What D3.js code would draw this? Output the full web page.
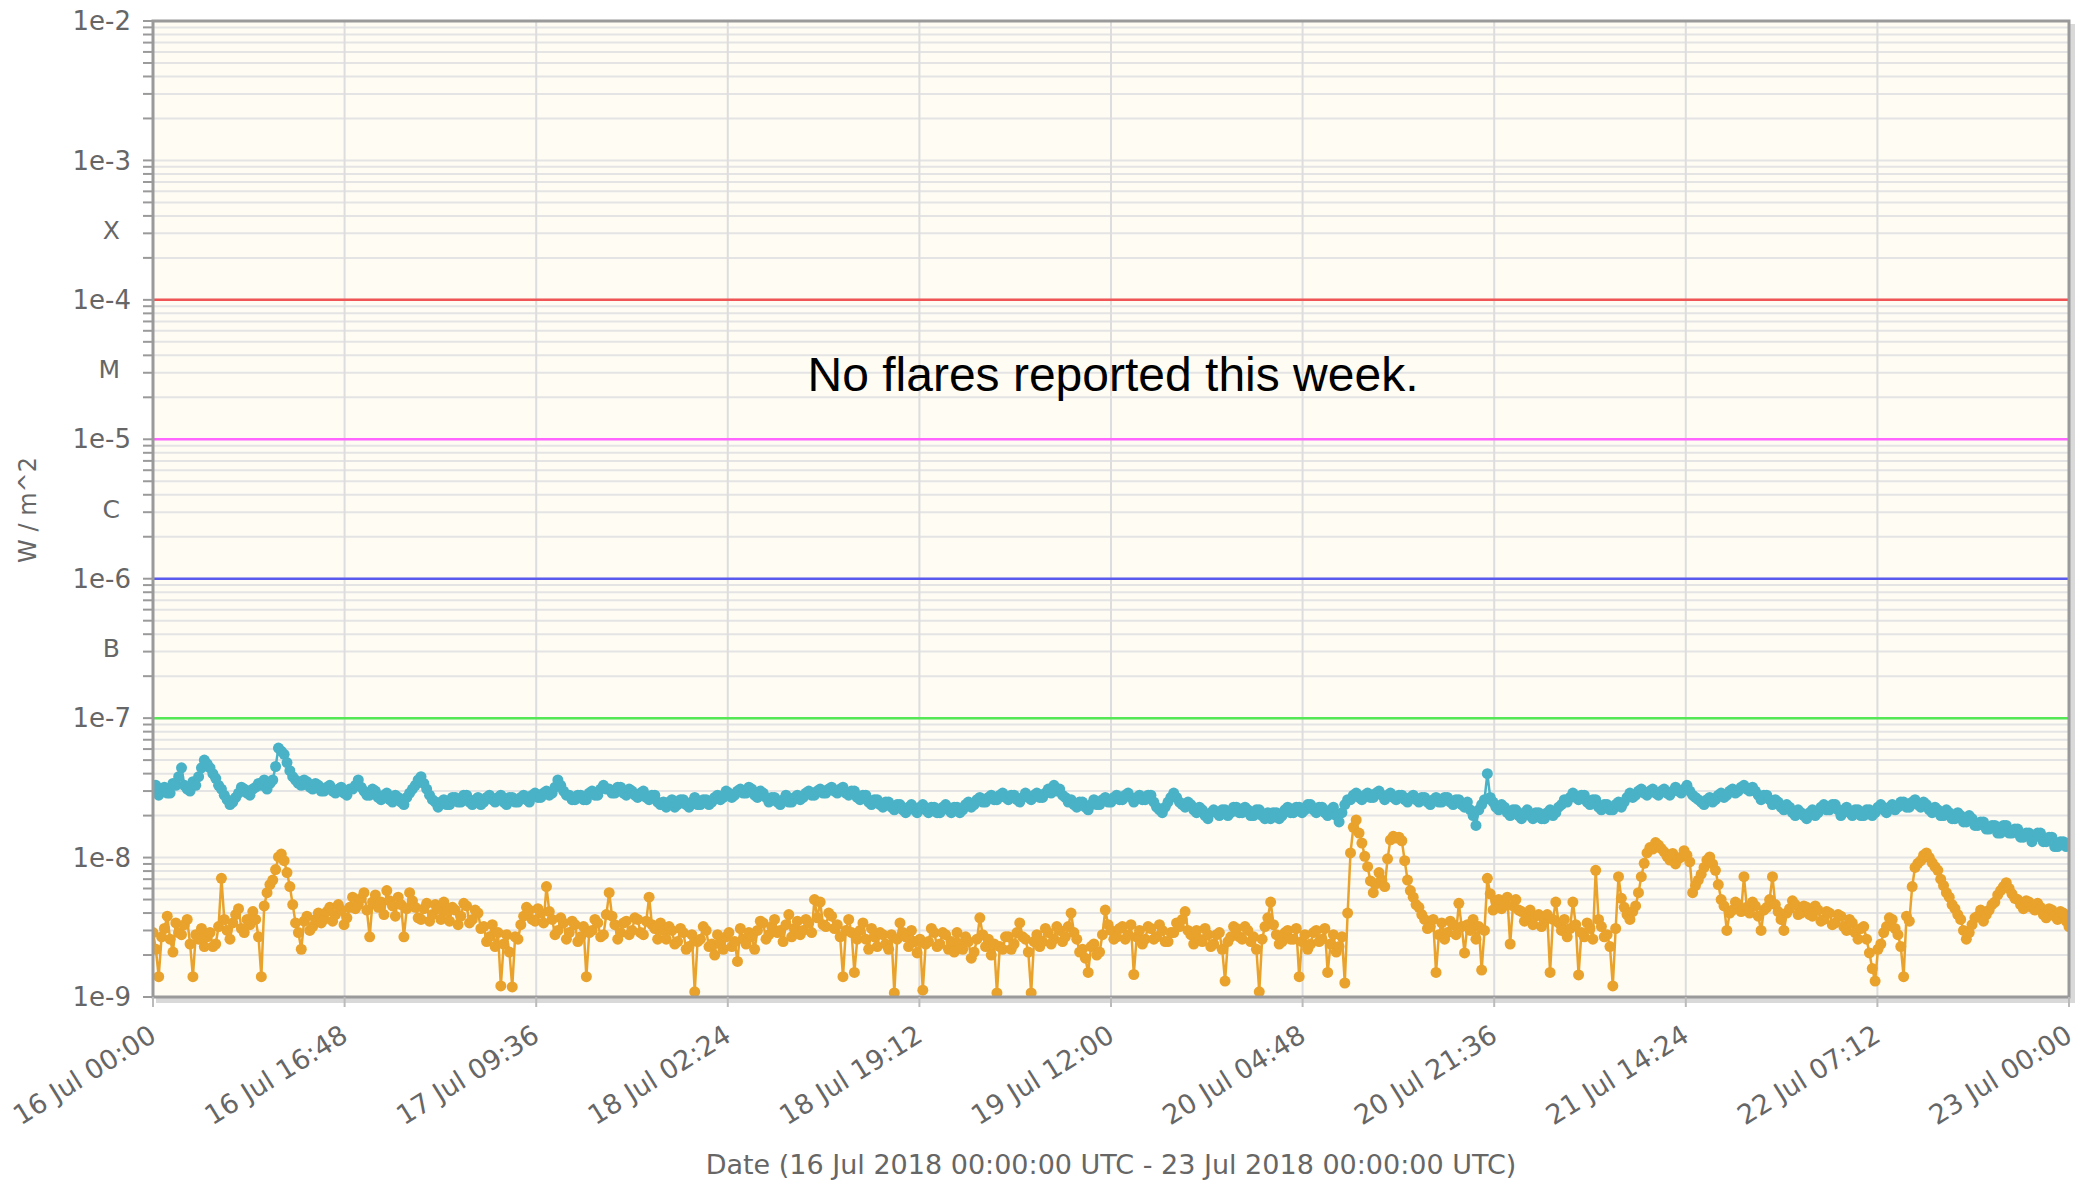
<!DOCTYPE html>
<html>
<head>
<meta charset="utf-8">
<script src="https://cdn.jsdelivr.net/npm/d3@7"></script>
<style>
  body { margin: 0; background: #fff; }
  text { font-family: "DejaVu Sans", sans-serif; }
</style>
</head>
<body>
<script>
// GOES X-ray flux, one week, 15 minute samples (values in 1e-9 W/m^2)

var startDate = "2018-07-16T00:00:00Z",
    endDate = "2018-07-23T00:00:00Z",
    stepMinutes = 15;

// long channel (0.1-0.8 nm), cyan -- one row = 5 hours
var longFlux = [
  30,33,28,31,32,29,29,34,33,38,44,33,31,30,35,33,38,44,50,47,
  44,40,37,33,31,28,26,24,25,27,29,32,31,29,28,31,32,34,33,36,
  31,34,36,45,61,58,55,48,42,38,36,34,33,36,35,32,31,34,33,30,
  30,32,33,30,29,31,32,29,28,31,31,33,36,32,30,28,28,31,30,27,
  26,28,29,26,25,28,27,25,24,27,29,31,33,36,38,34,31,28,26,25,
  23,25,26,24,24,27,27,25,25,28,28,25,24,26,27,24,25,27,28,26,
  25,27,28,25,24,27,27,25,25,27,28,26,25,28,29,27,27,29,30,28,
  29,32,36,33,30,28,28,26,26,28,28,26,26,29,30,28,28,31,33,31,
  31,29,29,32,32,29,28,31,30,28,27,29,30,27,26,28,28,25,24,25,
  23,25,26,23,24,26,26,24,23,25,27,24,24,26,26,24,25,27,28,26,
  27,30,29,27,28,30,31,29,29,32,31,28,27,30,29,27,25,27,27,25,
  24,26,28,25,25,27,28,26,27,29,30,28,28,30,31,29,29,31,32,30,
  29,31,32,29,28,30,30,27,26,28,28,25,24,26,26,24,23,25,25,23,
  22,24,24,22,21,23,24,22,21,23,24,22,21,23,23,21,21,23,24,22,
  21,23,23,21,22,24,25,23,24,26,27,25,25,27,28,26,26,28,29,27,
  26,28,28,26,25,27,29,27,26,28,29,27,27,29,31,29,33,30,31,28,
  27,25,26,24,23,25,25,23,22,24,26,24,24,26,27,25,25,27,28,26,
  26,28,29,27,25,27,28,26,26,28,28,25,23,22,21,23,25,27,29,27,
  25,24,23,25,24,22,21,23,22,20,19,21,22,21,20,22,22,20,21,23,
  23,21,21,23,22,20,20,22,22,20,19,21,19,21,21,19,20,22,23,21,
  21,23,23,21,22,24,24,22,21,23,23,21,20,22,23,20,18,21,24,26,
  26,28,29,27,26,28,29,27,27,29,30,28,26,28,29,27,26,28,28,26,
  25,27,28,26,25,27,27,25,24,26,27,25,25,27,27,25,24,26,26,24,
  23,25,22,20,17,22,24,26,40,27,25,23,22,24,23,21,20,22,22,20,
  19,21,22,20,19,21,21,19,19,21,22,20,21,23,24,26,25,27,29,27,
  26,28,28,25,24,26,26,23,22,24,24,22,22,24,25,23,25,27,29,27,
  28,30,31,29,28,30,31,29,28,30,31,29,28,30,32,30,29,31,33,30,
  28,27,26,25,24,26,27,25,26,28,29,27,28,30,31,29,30,32,33,31,
  30,32,30,28,26,28,28,26,24,26,25,23,22,24,23,21,20,22,21,20,
  19,21,22,20,21,23,24,22,22,24,24,22,20,22,23,21,20,22,22,20,
  20,22,22,20,21,23,24,22,21,23,24,22,23,25,25,23,23,25,26,24,
  23,25,24,22,21,23,22,20,20,22,21,19,19,21,20,18,18,20,19,17,
  17,18,18,16,16,17,17,15,15,17,17,15,15,16,16,14,14,15,15,13,
  14,15,15,13,13,14,14,12,12,13,13,12,12.7
];

// short channel (0.05-0.4 nm), orange -- one row = 5 hours
var shortFlux = [
  2.9,2.2,1.4,2.7,3.1,3.8,2.6,2.1,3.4,2.9,2.8,3.3,3.6,2.4,1.4,2.8,2.6,3.1,2.3,2.7,
  2.9,2.3,2.4,3.2,7.1,3.6,3.0,2.6,3.4,3.9,4.3,3.1,2.9,3.6,3.3,4.1,3.6,2.7,1.4,4.5,
  5.6,6.4,6.9,8.2,10.1,10.6,9.5,7.8,6.2,4.6,3.4,2.9,2.2,3.5,3.8,3.0,3.2,3.6,4.0,3.4,
  3.6,4.1,4.4,3.5,3.9,4.6,4.2,3.3,3.7,4.4,5.2,4.3,4.6,5.1,5.6,4.2,2.7,4.8,5.4,4.4,
  4.8,3.9,5.8,4.9,4.5,3.8,5.2,4.6,2.7,4.3,5.6,4.9,4.4,3.7,3.6,4.3,4.7,3.5,3.9,4.6,
  4.3,3.6,4.8,4.1,3.5,4.4,4.2,3.3,3.8,4.7,4.5,3.4,3.6,4.2,4.0,3.1,3.2,2.5,2.7,3.3,
  2.3,2.9,1.2,2.4,2.8,2.1,1.18,2.7,2.6,3.3,3.8,4.4,4.2,3.6,3.5,4.3,4.0,3.4,6.2,4.1,
  3.6,2.8,3.0,3.7,3.4,2.6,2.9,3.5,3.3,2.5,2.7,3.2,1.4,2.9,3.0,3.6,3.4,2.7,2.8,3.9,
  5.6,3.8,3.3,2.6,2.9,3.4,3.5,2.8,3.0,3.7,3.6,2.9,2.8,3.5,5.2,3.3,3.1,2.6,3.4,3.0,
  2.6,3.2,3.0,2.4,2.5,3.1,2.9,2.2,2.3,2.8,1.09,2.5,2.6,3.2,3.0,2.3,2.4,2.0,2.8,2.4,
  2.2,2.7,2.9,2.3,2.5,1.8,3.1,2.6,2.4,2.9,2.7,2.2,3.0,3.5,3.4,2.6,2.8,3.2,3.6,2.9,
  3.0,2.5,3.3,3.9,2.7,3.1,3.5,2.8,3.0,3.6,3.4,2.9,5.0,3.7,4.8,3.3,3.2,4.0,3.8,3.1,
  3.3,2.7,1.4,3.0,3.6,2.9,1.5,2.6,3.0,3.4,2.6,2.2,3.1,2.7,2.3,2.9,2.8,2.4,2.2,2.8,
  1.07,2.6,3.4,2.9,2.7,2.3,3.0,2.5,2.07,2.6,1.12,2.4,2.5,3.1,2.9,2.3,2.4,2.9,2.8,2.2,
  2.5,2.1,2.9,2.4,2.2,2.7,2.5,1.9,2.1,2.6,3.7,2.8,2.3,2.6,2.0,2.4,1.07,2.3,2.2,2.7,
  2.7,2.2,2.4,2.9,3.4,2.7,2.6,2.1,1.07,2.5,2.8,2.3,2.5,3.1,2.9,2.4,2.6,3.2,3.0,2.5,
  2.7,3.2,4.0,2.9,2.6,2.1,2.2,1.9,1.5,2.3,2.4,2.0,2.1,2.8,4.2,3.3,3.0,2.6,2.7,3.1,
  3.2,2.6,2.8,3.3,1.45,2.7,3.0,2.4,2.6,3.2,3.1,2.6,2.7,3.3,3.0,2.5,2.5,2.9,2.9,3.4,
  3.2,3.6,4.1,3.0,2.8,2.4,3.0,2.6,2.5,3.1,2.8,2.3,2.4,2.8,2.9,2.2,1.3,2.5,2.7,3.2,
  3.1,2.7,2.6,3.2,3.0,2.5,2.7,2.2,1.09,2.6,3.2,3.7,4.8,3.3,2.8,2.4,2.5,2.9,3.0,2.6,
  2.6,3.1,1.4,2.5,2.8,2.2,2.4,2.9,3.0,2.5,2.6,3.1,1.5,2.4,2.8,2.1,2.3,2.7,1.26,4.0,
  10.8,16.5,18.6,15.0,12.7,10.2,8.6,6.8,5.6,6.5,7.8,6.9,6.2,9.8,13.4,14.2,13.8,14.0,13.2,9.5,
  6.9,5.8,5.2,4.6,4.4,3.9,3.6,3.1,3.2,3.6,1.5,2.8,3.4,2.6,2.9,3.5,3.3,2.8,4.7,3.2,
  2.07,3.3,3.0,3.6,2.6,3.2,1.56,3.0,7.1,5.5,4.2,4.9,5.0,4.3,4.6,5.2,2.4,4.5,5.0,4.2,
  4.1,3.5,3.7,4.2,3.3,3.8,3.9,3.2,3.5,3.9,1.5,3.6,4.8,3.4,3.0,3.6,2.7,3.1,4.8,3.3,
  1.44,2.9,2.7,3.4,3.1,2.6,8.1,3.6,3.2,2.7,2.8,2.3,1.2,3.1,7.3,5.1,4.4,3.9,3.6,4.1,
  4.5,5.6,7.3,9.1,10.8,11.8,11.5,12.8,12.3,11.6,11.0,10.2,9.6,10.7,9.0,9.8,10.1,11.2,10.4,9.3,
  5.6,6.3,6.9,7.6,8.5,9.6,10.1,9.0,8.1,6.4,5.0,4.5,3.0,4.0,4.2,4.8,4.6,4.1,7.3,4.4,
  4.0,4.8,4.5,3.8,3.0,4.2,4.4,5.0,7.3,4.6,4.1,3.6,3.0,4.0,4.3,4.9,4.6,3.9,4.0,4.5,
  4.4,3.9,3.8,4.5,4.2,3.5,3.6,4.1,4.0,3.3,3.4,3.9,3.8,3.2,3.0,3.6,3.4,2.9,2.6,3.1,
  3.2,2.6,2.07,1.6,1.3,2.2,2.4,2.9,3.2,3.7,3.6,3.1,2.8,2.3,1.4,3.8,3.5,6.2,8.5,9.1,
  9.5,10.4,10.8,10.0,9.2,8.6,8.1,7.0,6.3,5.6,5.2,4.6,4.3,3.9,3.6,3.0,2.6,2.9,3.3,3.7,
  3.8,4.2,3.5,3.9,4.2,4.6,4.8,5.4,5.8,6.2,6.6,6.0,5.5,5.1,5.0,4.6,4.3,4.9,4.8,4.4,
  4.2,4.7,4.4,3.9,3.7,4.3,4.2,3.8,3.6,4.1,4.0,3.5,3.2
];

// flare class thresholds
var classLevels = [1e-4, 1e-5, 1e-6, 1e-7],
    classColors = ["#f05454", "#ff66ff", "#5a5aee", "#55e855"];
// class letters sit between decades
var classNames = ["X", "M", "C", "B"],
    classLow = [1e-4, 1e-5, 1e-6, 1e-7];

var yTickValues = [1e-9, 1e-8, 1e-7, 1e-6, 1e-5, 1e-4, 1e-3, 1e-2],
    yTickLabels = ["1e-9", "1e-8", "1e-7", "1e-6", "1e-5", "1e-4", "1e-3", "1e-2"];

var xTickCount = 10;   // 16.8 h apart

var margin = {top: 21, right: 21, bottom: 186, left: 153},
    width = 2090 - margin.left - margin.right,
    height = 1183 - margin.top - margin.bottom;

var svg = d3.select("body").append("svg")
    .attr("width", 2090)
    .attr("height", 1183);

var t0 = new Date(startDate),
    t1 = new Date(endDate);

var x = d3.scaleUtc().domain([t0, t1]).range([0, width]),
    y = d3.scaleLog().domain([1e-9, 1e-2]).range([height, 0]);

function toSeries(arr) {
  return arr.map(function(v, i) {
    return {date: new Date(t0.getTime() + i * stepMinutes * 60000), value: v * 1e-9};
  });
}
var longData = toSeries(longFlux),
    shortData = toSeries(shortFlux);

var xTicks = d3.range(xTickCount + 1).map(function(i) {
  return new Date(t0.getTime() + i * (t1 - t0) / xTickCount);
});
var fmt = d3.utcFormat("%d %b %H:%M");

// minor ticks 2..9 in each decade
var minorTicks = [];
yTickValues.slice(0, -1).forEach(function(d) {
  for (var k = 2; k <= 9; k++) minorTicks.push(d * k);
});

// shadow + plot background
svg.append("rect")
    .attr("x", margin.left + 3).attr("y", margin.top + 3)
    .attr("width", width + 3).attr("height", height + 3)
    .style("fill", "#d9d9d9");
svg.append("rect")
    .attr("x", margin.left).attr("y", margin.top)
    .attr("width", width).attr("height", height)
    .style("fill", "#fffcf4");

var g = svg.append("g")
    .attr("transform", "translate(" + margin.left + "," + margin.top + ")");

// horizontal grid
g.append("g").selectAll("line")
    .data(minorTicks.concat(yTickValues))
  .enter().append("line")
    .attr("x1", 0).attr("x2", width)
    .attr("y1", function(d) { return y(d); })
    .attr("y2", function(d) { return y(d); })
    .style("stroke", "#e4e4e4")
    .style("stroke-width", 2);

// vertical grid
g.append("g").selectAll("line")
    .data(xTicks)
  .enter().append("line")
    .attr("x1", function(d) { return x(d); })
    .attr("x2", function(d) { return x(d); })
    .attr("y1", 0).attr("y2", height)
    .style("stroke", "#dddddd")
    .style("stroke-width", 2);

// threshold lines
g.append("g").selectAll("line")
    .data(classLevels)
  .enter().append("line")
    .attr("x1", 0).attr("x2", width)
    .attr("y1", function(d) { return y(d); })
    .attr("y2", function(d) { return y(d); })
    .style("stroke", function(d, i) { return classColors[i]; })
    .style("stroke-width", 2.5);

svg.append("clipPath").attr("id", "clip")
  .append("rect").attr("width", width).attr("height", height + 2).attr("y", -1);

var line = d3.line()
    .x(function(d) { return x(d.date); })
    .y(function(d) { return y(d.value); });

function drawSeries(data, color) {
  var s = g.append("g").attr("clip-path", "url(#clip)");
  s.append("path")
      .datum(data)
      .attr("d", line)
      .style("fill", "none")
      .style("stroke", color)
      .style("stroke-width", 2.5);
  s.selectAll("circle")
      .data(data)
    .enter().append("circle")
      .attr("cx", function(d) { return x(d.date); })
      .attr("cy", function(d) { return y(d.value); })
      .attr("r", 5.5)
      .style("fill", color);
}
drawSeries(shortData, "#e9a22b");
drawSeries(longData, "#4ab2c6");

// frame
g.append("rect")
    .attr("width", width).attr("height", height)
    .style("fill", "none")
    .style("stroke", "#9a9a9a")
    .style("stroke-width", 3);

// y axis ticks and labels
g.append("g").selectAll("line")
    .data(minorTicks.concat(yTickValues))
  .enter().append("line")
    .attr("x1", -10).attr("x2", 0)
    .attr("y1", function(d) { return y(d); })
    .attr("y2", function(d) { return y(d); })
    .style("stroke", "#9a9a9a")
    .style("stroke-width", 2);

g.append("g").selectAll("text")
    .data(yTickValues)
  .enter().append("text")
    .attr("x", -22)
    .attr("y", function(d) { return y(d); })
    .attr("dy", "0.35em")
    .style("text-anchor", "end")
    .style("font-size", "26px")
    .style("fill", "#666")
    .text(function(d, i) { return yTickLabels[i]; });

g.append("g").selectAll("text")
    .data(classLow)
  .enter().append("text")
    .attr("x", -33)
    .attr("y", function(d) { return y(d * Math.sqrt(10)); })
    .attr("dy", "0.35em")
    .style("text-anchor", "end")
    .style("font-size", "25px")
    .style("fill", "#666")
    .text(function(d, i) { return classNames[i]; });

// x axis ticks and labels
g.append("g").selectAll("line")
    .data(xTicks)
  .enter().append("line")
    .attr("x1", function(d) { return x(d); })
    .attr("x2", function(d) { return x(d); })
    .attr("y1", height).attr("y2", height + 10)
    .style("stroke", "#bbbbbb")
    .style("stroke-width", 2);

g.append("g").selectAll("text")
    .data(xTicks)
  .enter().append("text")
    .attr("transform", function(d) {
      return "translate(" + (x(d) + 5) + "," + (height + 43) + ") rotate(-32)";
    })
    .style("text-anchor", "end")
    .style("font-size", "27px")
    .style("fill", "#666")
    .text(function(d) { return fmt(d); });

// axis titles
svg.append("text")
    .attr("x", margin.left + width / 2)
    .attr("y", 1174)
    .style("text-anchor", "middle")
    .style("font-size", "27px")
    .style("fill", "#666")
    .text("Date (16 Jul 2018 00:00:00 UTC - 23 Jul 2018 00:00:00 UTC)");

svg.append("text")
    .attr("transform", "translate(36,510) rotate(-90)")
    .style("text-anchor", "middle")
    .style("font-size", "24px")
    .style("fill", "#666")
    .text("W / m^2");

// note
svg.append("text")
    .attr("x", 1113)
    .attr("y", 391)
    .style("text-anchor", "middle")
    .style("font-family", "'Liberation Sans', Arial, sans-serif")
    .style("font-size", "48px")
    .style("fill", "#000")
    .text("No flares reported this week.");
</script>
</body>
</html>
